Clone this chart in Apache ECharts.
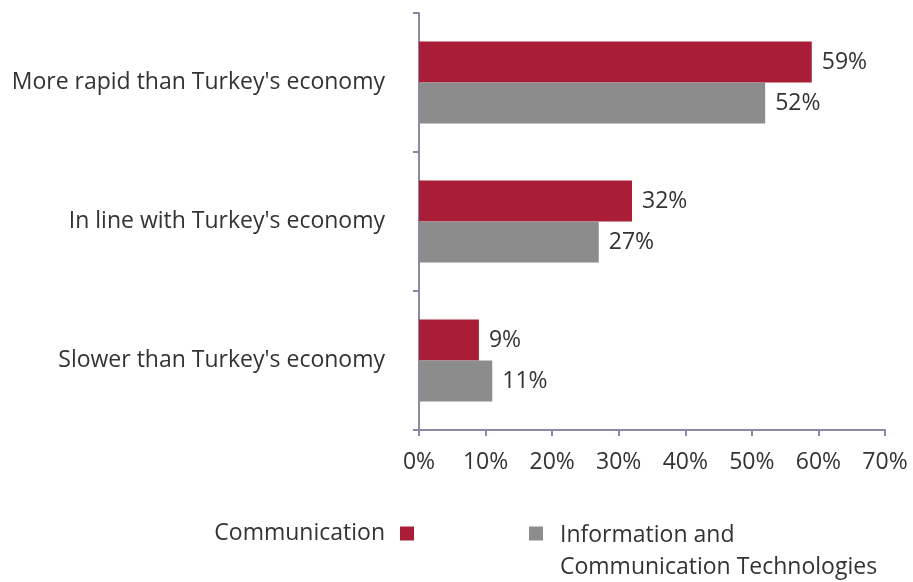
<!DOCTYPE html>
<html>
<head>
<meta charset="utf-8">
<script src="https://cdn.jsdelivr.net/npm/echarts@6/dist/echarts.min.js"></script>
<style>html,body{margin:0;padding:0;background:#fff;}#chart{width:913px;height:582px;}</style>
</head>
<body>
<div id="chart"></div>
<script>
const categories = ["More rapid than Turkey's economy", "In line with Turkey's economy", "Slower than Turkey's economy"];
const communication = [59, 32, 9];
const ict = [52, 27, 11];
const seriesNames = ["Communication", "Information and\nCommunication Technologies"];
const xTicks = { min: 0, max: 70, interval: 10 };

const FONT = "'Open Sans', 'DejaVu Sans', sans-serif";
const TXT = '#333333';
const AXIS = '#8a8aa8';
const FS = 23;

const chart = echarts.init(document.getElementById('chart'), null, { renderer: 'canvas' });
chart.setOption({
  animation: false,
  backgroundColor: '#ffffff',
  textStyle: { fontFamily: FONT },
  grid: { left: 419, right: 28, top: 13, bottom: 152, containLabel: false },
  legend: [
    {
      data: [seriesNames[0]],
      right: 499, top: 522, padding: 0,
      align: 'right',
      itemWidth: 14, itemHeight: 14,
      icon: 'rect',
      formatter: function (n) { return '{a|' + n + '}'; },
      textStyle: { fontSize: FS, color: TXT, fontFamily: FONT,
        rich: { a: { fontSize: FS, color: TXT, fontFamily: FONT, lineHeight: 24, padding: [0, 10, 0, 0] } } }
    },
    {
      data: [seriesNames[1]],
      left: 529, top: 490, padding: 0,
      align: 'left',
      itemWidth: 14, itemHeight: 14,
      icon: 'rect',
      formatter: function (n) {
        return '{s|\u00a0}\n' + n.split('\n').map(function (s) { return '{a|' + s + '}'; }).join('\n');
      },
      textStyle: { fontSize: FS, color: TXT, fontFamily: FONT,
        rich: {
          s: { fontSize: FS, lineHeight: 36 },
          a: { fontSize: FS, color: TXT, fontFamily: FONT, lineHeight: 32, padding: [0, 0, 0, 12] }
        } }
    }
  ],
  xAxis: {
    type: 'value',
    min: xTicks.min, max: xTicks.max, interval: xTicks.interval,
    axisLine: { show: true, lineStyle: { color: AXIS, width: 2 } },
    axisTick: { show: true, length: 6, lineStyle: { color: AXIS, width: 2 } },
    splitLine: { show: false },
    axisLabel: { formatter: '{value}%', fontSize: FS, color: TXT, fontFamily: FONT, margin: 21 }
  },
  yAxis: {
    type: 'category',
    data: categories,
    inverse: true,
    axisLine: { show: true, lineStyle: { color: AXIS, width: 2 } },
    axisTick: { show: true, length: 6, lineStyle: { color: AXIS, width: 2 } },
    axisLabel: { fontSize: FS, color: TXT, fontFamily: FONT, margin: 34, padding: [0, 0, 5, 0] }
  },
  series: [
    {
      name: seriesNames[0], type: 'bar', data: communication,
      barGap: '0%', barCategoryGap: '41%',
      itemStyle: { color: '#a91e36' },
      label: { show: true, position: 'right', distance: 10, formatter: '{c}%', fontSize: FS, color: TXT, fontFamily: FONT }
    },
    {
      name: seriesNames[1], type: 'bar', data: ict,
      barGap: '0%', barCategoryGap: '41%',
      itemStyle: { color: '#8c8c8c' },
      label: { show: true, position: 'right', distance: 10, formatter: '{c}%', fontSize: FS, color: TXT, fontFamily: FONT }
    }
  ]
});
</script>
</body>
</html>
